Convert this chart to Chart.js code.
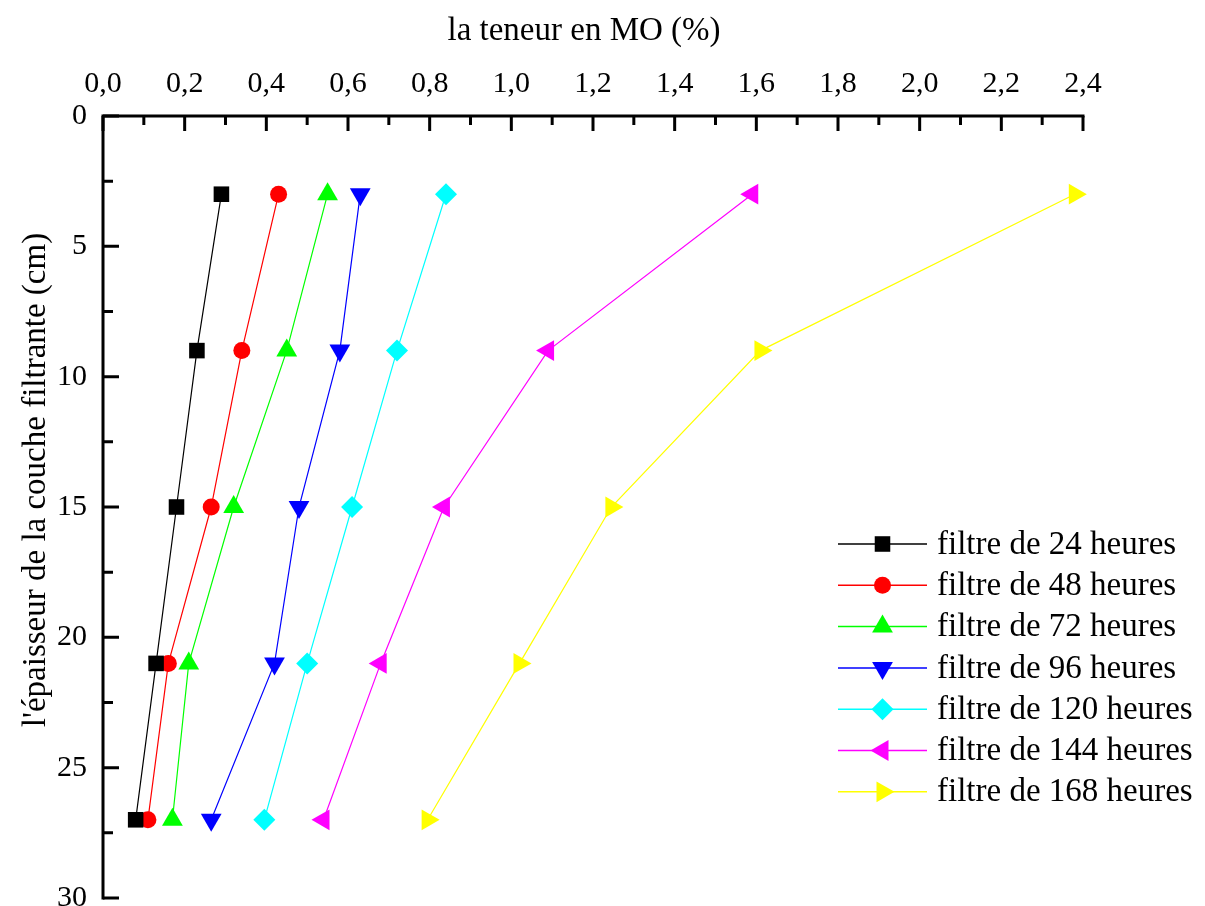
<!DOCTYPE html>
<html>
<head>
<meta charset="utf-8">
<script src="https://cdn.jsdelivr.net/npm/chart.js@4/dist/chart.umd.min.js"></script>
<style>
  html, body { margin: 0; padding: 0; background: #fff; }
  #wrap { width: 1205px; height: 906px; }
</style>
</head>
<body>
<div id="wrap"><canvas id="moChart" width="1205" height="906"></canvas></div>
<script>
// depth (cm) and organic matter content (%) per filter age
const depths = [3, 9, 15, 21, 27];
const mo24 = [0.29, 0.23, 0.18, 0.13, 0.08];
const mo48 = [0.43, 0.34, 0.265, 0.16, 0.11];
const mo72 = [0.55, 0.45, 0.32, 0.21, 0.17];
const mo96 = [0.63, 0.58, 0.48, 0.42, 0.265];
const mo120 = [0.84, 0.72, 0.61, 0.50, 0.395];
const mo144 = [1.59, 1.09, 0.835, 0.68, 0.54];
const mo168 = [2.38, 1.61, 1.245, 1.02, 0.795];

const seriesLabels = ['filtre de 24 heures', 'filtre de 48 heures', 'filtre de 72 heures',
  'filtre de 96 heures', 'filtre de 120 heures', 'filtre de 144 heures', 'filtre de 168 heures'];
const seriesValues = [mo24, mo48, mo72, mo96, mo120, mo144, mo168];

const xTitle = 'la teneur en MO (%)';
const yTitle = "l'épaisseur de la couche filtrante (cm)";

const colors = ['#000000', '#ff0000', '#00ff00', '#0000ff', '#00ffff', '#ff00ff', '#ffff00'];
const markers = [
  { style: 'rect', rotation: 0, radius: 11 },
  { style: 'circle', rotation: 0, radius: 8.5 },
  { style: 'triangle', rotation: 0, radius: 12 },
  { style: 'triangle', rotation: 180, radius: 12 },
  { style: 'rectRot', rotation: 0, radius: 11 },
  { style: 'triangle', rotation: 270, radius: 12 },
  { style: 'triangle', rotation: 90, radius: 12 }
];

const serif = "'Liberation Serif', 'Times New Roman', serif";

const datasets = seriesValues.map((vals, i) => ({
  label: seriesLabels[i],
  data: vals.map((v, j) => ({ x: v, y: depths[j] })),
  showLine: true,
  borderColor: colors[i],
  backgroundColor: colors[i],
  borderWidth: 1.2,
  pointStyle: markers[i].style,
  rotation: markers[i].rotation,
  pointRadius: markers[i].radius,
  pointHoverRadius: markers[i].radius,
  pointBorderWidth: 0,
  pointBackgroundColor: colors[i],
  clip: false
}));

// axes with inward ticks, titles and the legend
const decorations = {
  id: 'decorations',
  afterDatasetsDraw(chart) {
    const ctx = chart.ctx;
    const area = chart.chartArea;
    const xs = chart.scales.x;
    const ys = chart.scales.y;
    ctx.save();
    ctx.strokeStyle = '#000';
    ctx.lineWidth = 3;
    ctx.lineCap = 'square';
    ctx.beginPath();
    ctx.moveTo(area.left, area.bottom);
    ctx.lineTo(area.left, area.top);
    ctx.lineTo(area.right, area.top);
    ctx.stroke();

    ctx.lineCap = 'butt';
    ctx.beginPath();
    for (let i = 0; i <= 24; i++) {
      const px = xs.getPixelForValue(i * 0.1);
      const len = i % 2 === 0 ? 15 : 9;
      ctx.moveTo(px, area.top);
      ctx.lineTo(px, area.top + len);
    }
    for (let i = 0; i <= 12; i++) {
      const py = ys.getPixelForValue(i * 2.5);
      const len = i % 2 === 0 ? 16 : 10;
      ctx.moveTo(area.left, py);
      ctx.lineTo(area.left + len, py);
    }
    ctx.stroke();

    // titles
    ctx.fillStyle = '#000';
    ctx.font = '33px ' + serif;
    ctx.textAlign = 'center';
    ctx.textBaseline = 'middle';
    ctx.fillText(xTitle, 584, 31);
    ctx.save();
    ctx.translate(36, 480);
    ctx.rotate(-Math.PI / 2);
    ctx.fillText(yTitle, 0, 0);
    ctx.restore();

    // legend
    const lx0 = 838, lx1 = 927, tx = 937, ly0 = 544, gap = 41.3;
    chart.data.datasets.forEach((ds, i) => {
      const y = ly0 + i * gap;
      ctx.strokeStyle = ds.borderColor;
      ctx.lineWidth = 1.5;
      ctx.beginPath();
      ctx.moveTo(lx0, y);
      ctx.lineTo(lx1, y);
      ctx.stroke();
      ctx.fillStyle = ds.backgroundColor;
      Chart.helpers.drawPoint(ctx, {
        pointStyle: ds.pointStyle,
        rotation: ds.rotation,
        radius: ds.pointRadius,
        borderWidth: 0
      }, (lx0 + lx1) / 2, y);
      ctx.fillStyle = '#000';
      ctx.font = '33px ' + serif;
      ctx.textAlign = 'left';
      ctx.textBaseline = 'middle';
      ctx.fillText(ds.label, tx, y + 1);
    });
    ctx.restore();
  }
};

new Chart(document.getElementById('moChart'), {
  type: 'scatter',
  data: { datasets: datasets },
  options: {
    responsive: false,
    animation: false,
    layout: { autoPadding: false, padding: { left: 0, top: 0, right: 122, bottom: 8 } },
    plugins: { legend: { display: false }, tooltip: { enabled: false } },
    scales: {
      x: {
        type: 'linear',
        position: 'top',
        min: 0,
        max: 2.4,
        grid: { display: false, drawTicks: false },
        border: { display: false },
        ticks: {
          stepSize: 0.2,
          padding: 14,
          color: '#000',
          font: { family: serif, size: 30 },
          callback: v => v.toFixed(1).replace('.', ',')
        },
        afterFit(scale) {
          scale.height = 116;
          scale.paddingLeft = 0;
          scale.paddingRight = 0;
        }
      },
      y: {
        type: 'linear',
        reverse: true,
        min: 0,
        max: 30,
        grid: { display: false, drawTicks: false },
        border: { display: false },
        ticks: {
          stepSize: 5,
          padding: 16,
          color: '#000',
          font: { family: serif, size: 30 }
        },
        afterFit(scale) {
          scale.width = 103;
          scale.paddingTop = 0;
          scale.paddingBottom = 0;
        }
      }
    }
  },
  plugins: [decorations]
});
</script>
</body>
</html>
